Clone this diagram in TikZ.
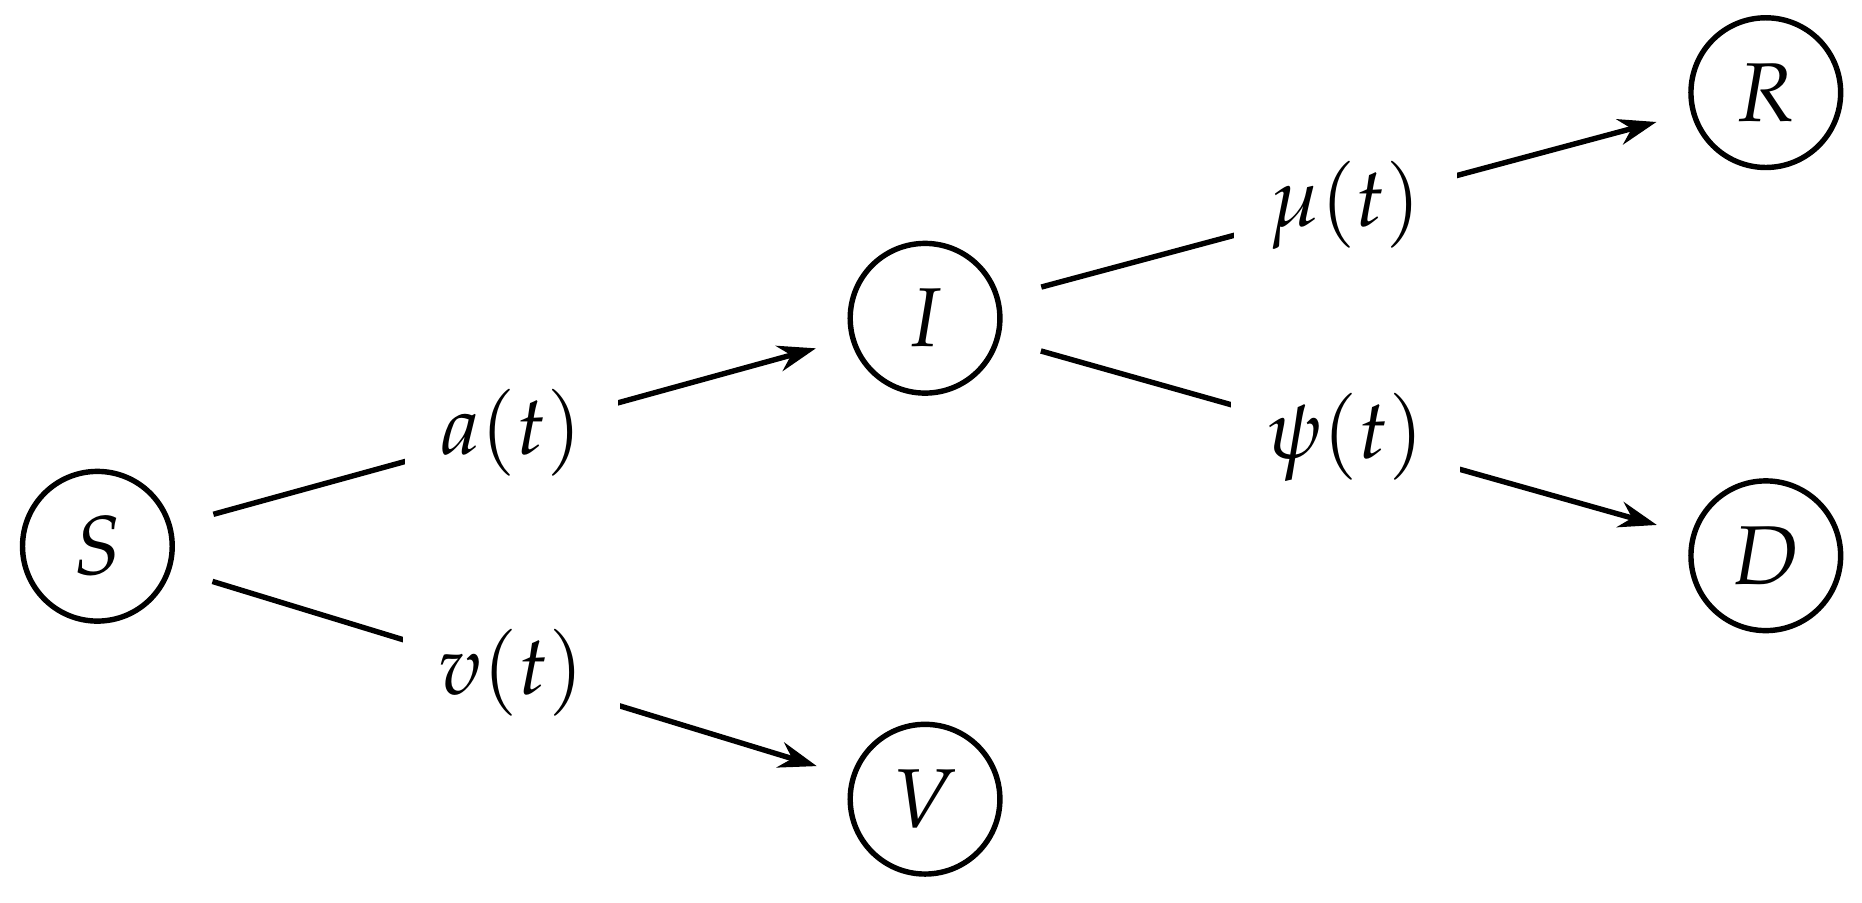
\documentclass[tikz,border=0pt]{standalone}
\usepackage{mathpazo}
\usetikzlibrary{arrows.meta}
\begin{document}
\begin{tikzpicture}[x=0.01cm,y=-0.01cm,
  st/.style={circle,draw,line width=1.3pt,minimum size=1.26cm,inner sep=0pt,font=\fontsize{20}{24}\selectfont},
  ed/.style={line width=1.3pt,shorten <=0.36cm,shorten >=0.3cm},
  ar/.style={ed,-{Stealth[length=0.32cm,width=0.22cm]}},
  lb/.style={fill=white,inner xsep=0.3cm,inner ysep=0.1cm,font=\fontsize{20}{24}\selectfont}]
\useasboundingbox (0,0) rectangle (1568,760);
\node[st] (S) at (82,460) {$S$};
\node[st] (I) at (779,268) {$I$};
\node[st] (V) at (779,673) {$V$};
\node[st] (R) at (1487,78) {$R$};
\node[st] (D) at (1487,468) {$D$};
\draw[ar] (S) -- node[lb]{$a(t)$} (I);
\draw[ar] (S) -- node[lb]{$v(t)$} (V);
\draw[ar] (I) -- node[lb]{$\mu(t)$} (R);
\draw[ar] (I) -- node[lb]{$\psi(t)$} (D);
\end{tikzpicture}
\end{document}
